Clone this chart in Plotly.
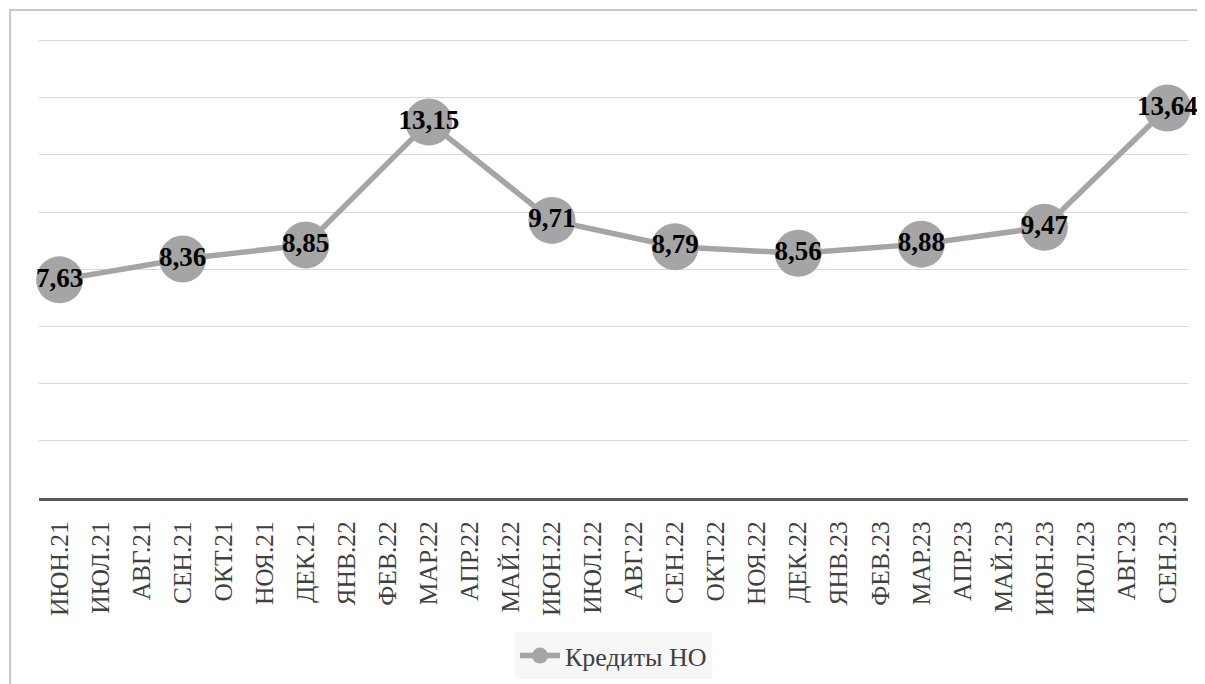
import plotly.graph_objects as go

months = ["ИЮН.21", "ИЮЛ.21", "АВГ.21", "СЕН.21", "ОКТ.21", "НОЯ.21", "ДЕК.21",
          "ЯНВ.22", "ФЕВ.22", "МАР.22", "АПР.22", "МАЙ.22", "ИЮН.22", "ИЮЛ.22",
          "АВГ.22", "СЕН.22", "ОКТ.22", "НОЯ.22", "ДЕК.22", "ЯНВ.23", "ФЕВ.23",
          "МАР.23", "АПР.23", "МАЙ.23", "ИЮН.23", "ИЮЛ.23", "АВГ.23", "СЕН.23"]
values = [7.63, None, None, 8.36, None, None, 8.85,
          None, None, 13.15, None, None, 9.71, None,
          None, 8.79, None, None, 8.56, None, None,
          8.88, None, None, 9.47, None, None, 13.64]
series_name = "Кредиты НО"

labels = [("" if v is None else f"{v:.2f}".replace(".", ",")) for v in values]

FONT = "Liberation Serif"
GRAY = "#A5A5A5"

fig = go.Figure()
fig.add_trace(go.Scatter(
    x=months, y=values, name=series_name,
    mode="lines+markers+text",
    connectgaps=True,
    line=dict(color=GRAY, width=5.5),
    marker=dict(color=GRAY, size=47),
    text=labels, textposition="middle center",
    textfont=dict(family=FONT, size=27, color="#000000", weight="bold"),
    cliponaxis=False,
))

fig.update_layout(
    width=1205, height=684,
    margin=dict(l=31, r=25, t=24, b=194),
    paper_bgcolor="white", plot_bgcolor="white",
    font=dict(family=FONT, color="#404040"),
    showlegend=True,
    legend=dict(orientation="h", x=0.5, xanchor="center", y=-0.288, yanchor="top",
                bgcolor="#F7F7F7", font=dict(family=FONT, size=26, color="#404040"),
                itemwidth=40),
    xaxis=dict(type="category", range=[-0.5, 27.5], showgrid=False,
               showline=True, linecolor="#595959", linewidth=3,
               tickangle=-90, ticks="outside", ticklen=10, tickcolor="rgba(0,0,0,0)",
               tickfont=dict(family=FONT, size=25.5, color="#404040"),
               fixedrange=True),
    yaxis=dict(range=[0, 16.3], tick0=0, dtick=2, showgrid=True, gridcolor="#D9D9D9", gridwidth=1,
               showticklabels=False, zeroline=False, showline=False, ticks=""),
    shapes=[dict(type="rect", xref="paper", yref="paper",
                 x0=-0.0252, x1=1.03, y0=-0.45, y1=1.047,
                 line=dict(color="#C8C8C8", width=2), fillcolor="rgba(0,0,0,0)",
                 layer="below")],
)

fig.write_html("out.html")
